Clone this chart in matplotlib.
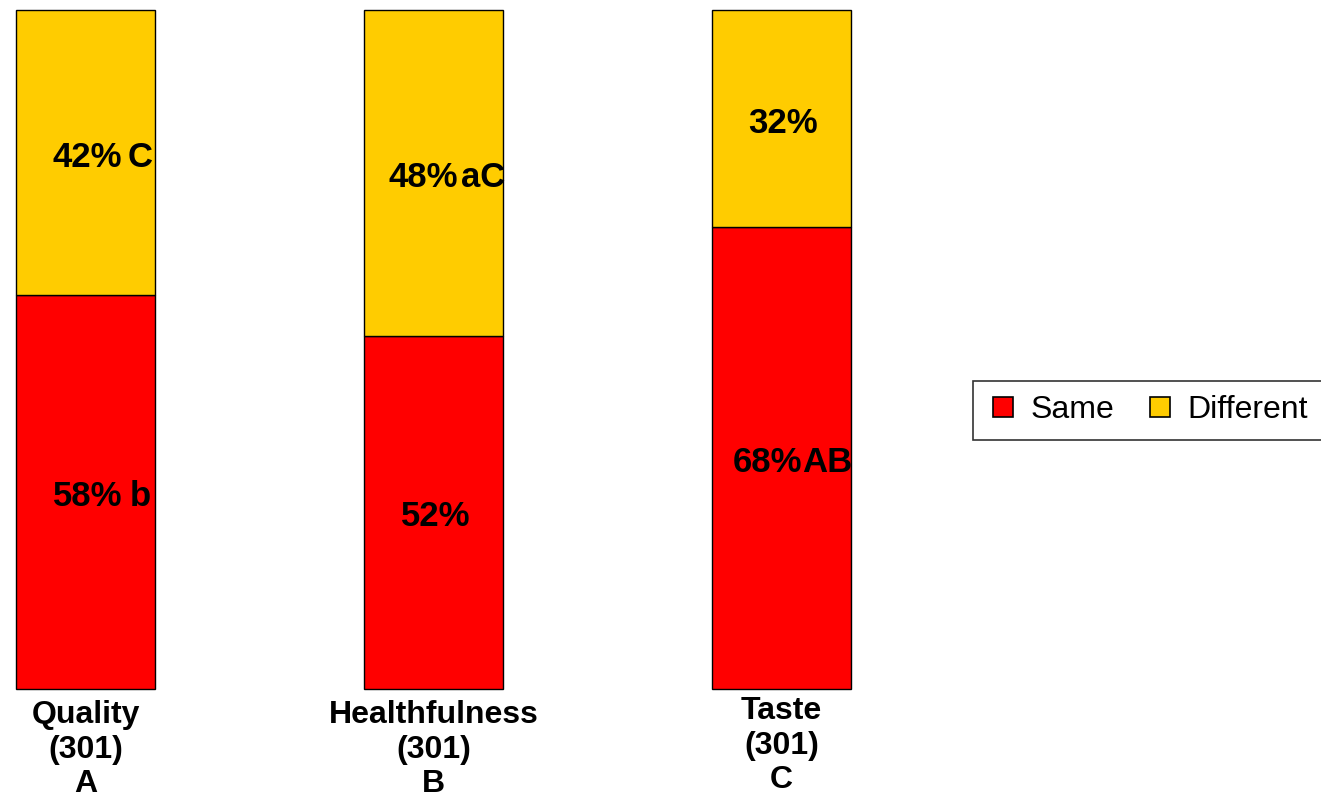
import numpy as np
import matplotlib.pyplot as plt
from matplotlib.lines import Line2D

plt.rcParams['font.family'] = ['Liberation Sans', 'DejaVu Sans']

categories = ['Quality', 'Healthfulness', 'Taste']
counts = [301, 301, 301]
group_letters = ['A', 'B', 'C']
same_pct = np.array([58, 52, 68])
diff_pct = np.array([42, 48, 32])
same_sig = ['b', '', 'AB']
diff_sig = ['C', 'aC', '']

red = '#FF0000'
gold = '#FFCC00'

W, H = 1321, 799
fig = plt.figure(figsize=(W / 100, H / 100), dpi=100)
# axes placed in pixels: left 16, right 851, top 10, bottom 689
ax = fig.add_axes([16 / W, (H - 689) / H, 835 / W, 679 / H])

x = np.arange(len(categories))
ax.bar(x, same_pct, width=0.4, color=red, edgecolor='black', linewidth=1, clip_on=False)
ax.bar(x, diff_pct, width=0.4, bottom=same_pct, color=gold, edgecolor='black', linewidth=1,
       clip_on=False)

ax.set_xlim(-0.2, 2.2)
ax.set_ylim(0, 100)
ax.axis('off')

px = 72 / 100  # pixels -> points
# label x offsets (pixels from bar centre): percent centre, letter left edge
same_off = [(2, 44), (2, 0), (-14, 21)]
diff_off = [(2, 42), (-10, 28), (2, 0)]
ydrop = 14

for i in range(len(x)):
    for val, base, sig, off in [(same_pct[i], 0, same_sig[i], same_off[i]),
                                (diff_pct[i], same_pct[i], diff_sig[i], diff_off[i])]:
        yc = base + val / 2
        ax.annotate(f'{val}%', (x[i], yc), xytext=(off[0] * px, -ydrop * px),
                    textcoords='offset points', ha='center', va='baseline',
                    fontsize=25, fontweight='bold')
        if sig:
            ax.annotate(sig, (x[i], yc), xytext=(off[1] * px, -ydrop * px),
                        textcoords='offset points', ha='left', va='baseline',
                        fontsize=25, fontweight='bold')

cat_pad = [11, 11, 7]
for i, c in enumerate(categories):
    ax.annotate(f'{c}\n({counts[i]})\n{group_letters[i]}', (x[i], 0),
                xytext=(0, -cat_pad[i] * px), textcoords='offset points',
                ha='center', va='top', fontsize=23, fontweight='bold', linespacing=1.2)

handles = [Line2D([], [], marker='s', linestyle='none', markersize=14,
                  markerfacecolor=red, markeredgecolor='black', markeredgewidth=1.2),
           Line2D([], [], marker='s', linestyle='none', markersize=14,
                  markerfacecolor=gold, markeredgecolor='black', markeredgewidth=1.2)]
leg = fig.legend(handles, ['Same', 'Different'], ncol=2, loc='upper left',
                 bbox_to_anchor=(973 / W, 1 - 381 / H), fontsize=23, frameon=True,
                 fancybox=False, edgecolor='black', handlelength=1.0, handletextpad=0.36,
                 columnspacing=0.92, borderpad=0.45, borderaxespad=0)
leg.get_frame().set_linewidth(1.2)

fig.savefig('out.png', dpi=100)
